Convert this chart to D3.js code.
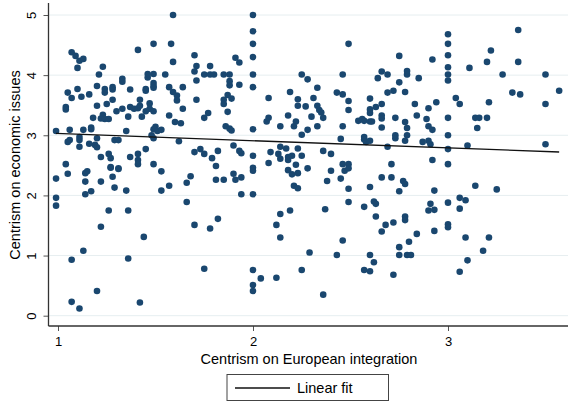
<!DOCTYPE html>
<html>
<head>
<meta charset="utf-8">
<script src="https://cdn.jsdelivr.net/npm/d3@7"></script>
<style>
  body { margin: 0; background: #fff; }
  svg { display: block; font-family: "Liberation Sans", Arial, Helvetica, sans-serif; }
  .grid line { stroke: #e6eef0; stroke-width: 1; }
</style>
</head>
<body>
<div class="chart"></div>
<script>
var width = 568,
    height = 403;

// data: centrism on European integration (x) vs centrism on economic issues (y)
var euIntegration = [
  1.59,1.07,1.09,1.11,1.13,1.10,1.41,1.49,1.58,1.59,1.70,1.71,1.70,1.78,1.75,1.78,1.80,1.71,1.23,1.21,
  1.33,1.33,1.05,1.10,1.07,1.12,1.16,1.20,1.24,1.24,1.28,1.28,1.28,1.25,1.20,1.04,1.04,1.37,1.42,1.45,
  1.45,1.46,1.46,1.49,1.49,1.49,1.49,1.55,1.57,1.59,1.61,1.61,1.64,1.64,1.71,1.37,1.39,1.41,1.42,1.43,
  1.45,1.47,1.47,1.49,1.36,1.30,1.33,1.23,1.22,1.24,1.26,1.18,1.35,1.17,1.17,1.13,1.06,0.99,1.50,1.49,
  1.51,1.53,1.48,1.49,1.60,1.63,1.57,1.75,1.77,1.62,1.11,1.11,1.11,1.06,1.05,1.20,1.19,1.20,1.16,1.29,
  1.31,1.45,1.22,1.26,1.27,1.37,1.41,1.41,1.41,1.70,1.73,1.75,1.79,1.82,1.81,1.04,1.27,1.31,1.49,
  2.00,2.00,2.00,2.00,2.00,2.00,2.49,1.91,1.93,1.85,1.88,1.88,1.88,1.93,1.87,1.89,1.85,1.85,1.87,1.86,
  1.88,1.89,2.00,2.25,2.28,2.46,2.46,2.49,2.49,2.46,2.43,2.33,2.31,2.33,2.34,2.35,2.36,2.30,2.19,2.08,
  2.23,2.23,2.27,2.18,2.22,2.21,2.07,2.08,2.14,2.25,2.28,2.33,2.45,2.60,2.60,2.60,2.63,2.66,2.66,2.66,
  2.66,2.64,2.66,2.69,2.69,2.72,2.73,2.54,2.56,2.57,2.60,2.61,2.57,2.57,2.58,2.60,2.73,2.69,1.90,1.93,
  1.94,2.00,2.09,2.08,2.14,2.17,2.13,2.14,2.18,2.18,2.20,2.22,2.23,2.25,2.36,2.40,2.46,2.49,2.71,
  3.36,3.00,3.00,3.00,3.00,3.00,3.00,2.75,2.92,3.22,3.20,3.36,3.11,3.28,3.50,2.79,2.79,2.85,2.75,2.78,
  3.57,3.33,3.37,3.04,3.06,2.94,2.90,2.83,3.21,3.50,2.84,2.89,3.00,3.14,3.16,3.20,3.15,2.78,2.79,2.79,
  2.73,2.78,2.90,2.92,2.87,2.90,2.91,3.00,3.00,3.00,3.10,3.50,2.92,
  0.99,1.05,1.14,1.15,1.14,1.14,1.17,1.22,1.27,1.28,1.29,1.31,1.35,1.53,1.53,1.57,1.66,1.68,1.66,1.81,
  0.99,0.99,1.26,1.36,1.22,1.44,1.70,1.78,1.82,1.13,1.07,1.36,1.75,1.20,1.07,1.11,1.42,
  2.00,2.00,1.90,1.91,1.94,1.85,1.94,2.00,2.18,2.20,2.23,2.28,2.21,2.23,2.40,2.38,2.45,2.47,2.49,2.49,
  2.60,2.66,2.71,2.49,2.37,2.19,2.14,2.12,2.14,2.57,2.62,2.63,2.63,2.68,2.66,2.72,2.46,2.29,2.43,2.60,
  2.62,2.57,2.60,2.72,2.00,2.00,2.00,2.04,2.12,2.25,2.36,
  2.77,2.78,2.75,2.93,3.14,3.25,3.06,3.09,2.91,2.90,2.93,3.00,3.06,2.78,2.78,2.84,2.93,3.00,3.00,3.09,
  3.21,3.18,3.10,3.06,2.75,2.80,2.75,2.79,2.81
];
var economic = [
  5.00,4.38,4.32,4.24,4.27,4.12,4.42,4.52,4.52,4.22,4.33,4.15,4.06,4.15,4.01,4.01,4.01,3.91,4.14,4.01,
  3.94,3.89,3.71,3.77,3.62,3.64,3.68,3.82,3.77,3.71,3.80,3.76,3.59,3.52,3.49,3.47,3.43,3.76,3.59,3.74,
  3.77,3.96,4.02,4.02,3.87,3.82,3.79,4.01,3.80,3.72,3.66,3.58,3.80,3.44,3.59,3.47,3.44,3.45,3.49,3.31,
  3.40,3.53,3.44,3.40,3.31,3.40,3.44,3.34,3.28,3.27,3.27,3.29,3.07,3.13,3.10,3.09,3.09,3.07,3.14,3.10,
  3.07,3.09,3.00,2.95,3.22,3.20,3.33,3.29,3.37,2.90,2.97,2.92,2.81,2.92,2.89,2.95,2.84,2.80,2.86,2.92,
  2.92,2.77,2.64,2.69,2.62,2.64,2.69,2.59,2.52,2.72,2.77,2.69,2.62,2.74,2.49,2.52,2.47,2.45,2.52,
  5.00,4.73,4.52,4.30,4.01,3.80,4.52,4.29,4.21,4.01,4.01,3.90,3.83,3.84,3.67,3.61,3.59,3.52,3.39,3.15,
  3.11,3.08,3.10,4.01,3.93,4.01,3.68,3.57,3.42,3.15,3.71,3.79,3.62,3.49,3.42,3.38,3.29,3.31,3.72,3.62,
  3.60,3.49,3.48,3.33,3.23,3.15,3.23,3.29,3.15,3.01,3.09,3.15,2.94,3.61,3.43,3.37,3.47,3.52,3.33,3.28,
  3.13,3.95,4.06,4.01,3.71,3.74,3.29,3.24,3.27,3.24,3.23,3.23,2.97,2.93,2.89,2.91,3.00,2.81,2.83,2.74,
  2.70,2.66,2.72,2.54,2.81,2.78,2.69,2.61,2.64,2.59,2.66,2.51,2.78,2.66,2.74,2.69,2.52,2.52,2.52,
  4.75,4.68,4.52,4.33,4.13,4.01,3.91,4.32,4.26,4.41,4.22,4.22,4.12,4.01,4.01,4.01,4.07,3.95,3.88,3.72,
  3.74,3.71,3.68,3.62,3.52,3.55,3.45,3.52,3.55,3.52,3.33,3.27,3.29,3.29,3.29,3.29,3.12,3.22,3.12,3.00,
  2.95,2.91,3.15,3.09,2.89,2.91,2.85,3.00,2.77,2.52,2.83,2.85,2.59,
  2.28,2.36,2.37,2.40,2.23,2.02,2.07,2.23,2.46,2.31,2.13,2.44,2.08,2.40,2.08,2.16,2.21,2.32,1.89,2.26,
  1.96,1.83,1.75,1.75,1.48,1.31,1.51,1.45,1.61,1.08,0.93,0.95,0.78,0.41,0.23,0.12,0.22,
  2.46,2.41,2.36,2.26,2.30,2.26,2.02,2.02,2.42,2.35,2.37,2.45,2.16,2.12,2.41,2.24,2.28,2.41,2.45,2.11,
  2.14,2.30,2.30,1.89,1.77,1.75,1.69,1.51,1.30,1.81,1.90,1.86,1.65,1.51,1.40,1.55,1.25,1.05,1.01,1.01,
  0.89,0.76,0.74,0.68,0.76,0.51,0.41,0.62,0.63,0.76,0.35,
  2.24,2.19,2.07,2.08,2.16,2.10,1.96,1.92,1.86,1.75,1.76,1.88,1.78,1.65,1.59,1.36,1.41,1.52,1.47,1.30,
  1.30,1.08,0.92,0.73,1.14,1.23,1.01,1.01,1.01
];

// linear fit
var fitIntercept = 3.15,
    fitSlope = -0.12;

var xTicks = [1, 2, 3],
    yTicks = [0, 1, 2, 3, 4, 5];

var points = euIntegration.map(function(d, i) { return {x: d, y: economic[i]}; });

var svg = d3.select(".chart").append("svg")
    .attr("width", width)
    .attr("height", height);

svg.append("rect").attr("width", width).attr("height", height).attr("fill", "#fff");

var plotLeft = 48.5, plotRight = 568, plotTop = 3, plotBottom = 326;

var x = d3.scaleLinear().domain([1, 3]).range([58, 448]);
var y = d3.scaleLinear().domain([0, 5]).range([315.7, 15]);

// horizontal grid
svg.append("g")
    .attr("class", "grid")
  .selectAll("line")
  .data(yTicks)
  .enter().append("line")
    .attr("x1", plotLeft)
    .attr("x2", plotRight)
    .attr("y1", function(d) { return y(d); })
    .attr("y2", function(d) { return y(d); });

// points
svg.append("g")
  .selectAll("circle")
  .data(points)
  .enter().append("circle")
    .attr("cx", function(d) { return x(d.x); })
    .attr("cy", function(d) { return y(d.y); })
    .attr("r", 3.3)
    .attr("fill", "#1a476f");

// fit line
var xr = d3.extent(euIntegration);
svg.append("line")
    .attr("x1", x(xr[0]))
    .attr("y1", y(fitIntercept + fitSlope * xr[0]))
    .attr("x2", x(xr[1]))
    .attr("y2", y(fitIntercept + fitSlope * xr[1]))
    .attr("stroke", "#111")
    .attr("stroke-width", 1.3);

// y axis
var yAxis = svg.append("g")
    .attr("transform", "translate(" + plotLeft + ",0)")
    .call(d3.axisLeft(y).tickValues(yTicks).tickFormat(d3.format("d")).tickSize(5).tickPadding(0));
yAxis.select(".domain").remove();
yAxis.selectAll(".tick line").attr("stroke", "#555");
yAxis.selectAll(".tick text")
    .attr("x", null).attr("dy", null)
    .attr("text-anchor", "middle")
    .attr("transform", "translate(-12.5,0) rotate(-90)")
    .attr("font-size", 13)
    .attr("font-family", "Liberation Sans, Arial, sans-serif")
    .attr("fill", "#000");

// x axis
var xAxis = svg.append("g")
    .attr("transform", "translate(0," + plotBottom + ")")
    .call(d3.axisBottom(x).tickValues(xTicks).tickFormat(d3.format("d")).tickSize(5).tickPadding(0));
xAxis.select(".domain").remove();
xAxis.selectAll(".tick line").attr("stroke", "#555");
xAxis.selectAll(".tick text")
    .attr("y", 19.5).attr("dy", null)
    .attr("font-size", 13)
    .attr("font-family", "Liberation Sans, Arial, sans-serif")
    .attr("fill", "#000");

// axis lines
svg.append("line")
    .attr("x1", plotLeft).attr("x2", plotLeft)
    .attr("y1", plotTop).attr("y2", plotBottom)
    .attr("stroke", "#333").attr("stroke-width", 1.3);
svg.append("line")
    .attr("x1", plotLeft).attr("x2", plotRight)
    .attr("y1", plotBottom).attr("y2", plotBottom)
    .attr("stroke", "#333").attr("stroke-width", 1.3);

// titles
svg.append("text")
    .attr("x", 309)
    .attr("y", 363.5)
    .attr("text-anchor", "middle")
    .attr("font-size", 14.5)
    .text("Centrism on European integration");

svg.append("text")
    .attr("transform", "translate(20,165) rotate(-90)")
    .attr("text-anchor", "middle")
    .attr("font-size", 14.5)
    .text("Centrism on economic issues");

// legend
var legend = svg.append("g");
legend.append("rect")
    .attr("x", 227).attr("y", 374.5)
    .attr("width", 161.5).attr("height", 26)
    .attr("fill", "#fff")
    .attr("stroke", "#444")
    .attr("stroke-width", 1);
legend.append("line")
    .attr("x1", 235).attr("x2", 290)
    .attr("y1", 388).attr("y2", 388)
    .attr("stroke", "#111").attr("stroke-width", 1.3);
legend.append("text")
    .attr("x", 297).attr("y", 393)
    .attr("font-size", 14.5)
    .text("Linear fit");
</script>
</body>
</html>
